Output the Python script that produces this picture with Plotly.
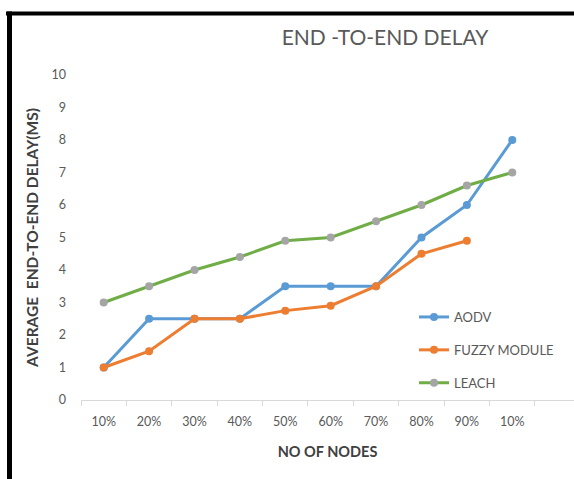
import plotly.graph_objects as go

# Node percentages along the x axis (the final group is labelled "10%" again)
categories = ["10%", "20%", "30%", "40%", "50%", "60%", "70%", "80%", "90%", "10%"]

# Average end-to-end delay (ms) per protocol
aodv = [1, 2.5, 2.5, 2.5, 3.5, 3.5, 3.5, 5, 6, 8]
fuzzy = [1, 1.5, 2.5, 2.5, 2.75, 2.9, 3.5, 4.5, 4.9, None]
leach = [3, 3.5, 4, 4.4, 4.9, 5, 5.5, 6, 6.6, 7]

y_ticks = list(range(0, 11))

W, H = 574, 479
L, R, T, B = 81, 0, 75, 79
PW, PH = W - L - R, H - T - B


def px_x(px):
    return (px - L) / PW


def px_y(py):
    return (H - B - py) / PH


xpos = list(range(len(categories)))
grey_txt = "#595959"

fig = go.Figure()

fig.add_trace(go.Scatter(
    x=xpos, y=aodv, name="AODV", mode="lines+markers",
    line=dict(color="#5B9BD5", width=3),
    marker=dict(color="#5B9BD5", size=8, symbol="circle"),
    legendgroup="a",
))
fig.add_trace(go.Scatter(
    x=xpos, y=fuzzy, name="FUZZY MODULE", mode="lines+markers",
    line=dict(color="#ED7D31", width=3),
    marker=dict(color="#ED7D31", size=8, symbol="circle"),
    legendgroup="b",
))
fig.add_trace(go.Scatter(
    x=xpos, y=leach, name="LEACH", mode="lines+markers",
    line=dict(color="#70AD47", width=3),
    marker=dict(color="#A5A5A5", size=8, symbol="circle"),
    legendgroup="c",
))

fig.update_layout(
    width=W, height=H,
    margin=dict(l=L, r=R, t=T, b=B, autoexpand=False),
    paper_bgcolor="white", plot_bgcolor="white",
    font=dict(family="Lato, sans-serif", color=grey_txt, size=12),
    title=dict(
        text="END -TO-END DELAY",
        font=dict(family="Lato, sans-serif", size=21, color=grey_txt),
        x=px_x(385), xref="paper", xanchor="center",
        y=1 - 38 / H, yref="container", yanchor="middle",
    ),
    xaxis=dict(
        range=[-0.5, (W - L) / ((PW) / 10.86) - 0.5],
        tickmode="array", tickvals=xpos, ticktext=categories,
        ticks="", showgrid=False, zeroline=False,
        showline=True, linecolor="#D9D9D9", linewidth=1,
        tickfont=dict(size=12.5, color=grey_txt),
        ticklabelstandoff=10,
        minor=dict(ticks="outside", tick0=-0.5, dtick=1, ticklen=5,
                   tickcolor="#D9D9D9", tickwidth=1, showgrid=False),
        title=dict(text="<b>NO OF NODES</b>", standoff=18,
                   font=dict(size=14.5, color="#404040")),
        automargin=False,
    ),
    yaxis=dict(
        range=[0, 10], tickmode="array", tickvals=y_ticks,
        showgrid=False, zeroline=False, showline=False, ticks="",
        tickfont=dict(size=12.5, color=grey_txt),
        ticklabelstandoff=14,
        title=dict(text="<b>AVERAGE  END-TO-END DELAY(MS)</b>", standoff=9,
                   font=dict(size=15.5, color="#404040")),
        automargin=False,
    ),
    legend=dict(
        x=px_x(414), y=px_y(302), xanchor="left", yanchor="top",
        bgcolor="rgba(0,0,0,0)", tracegroupgap=13,
        font=dict(size=13, color=grey_txt),
        itemwidth=30,
    ),
    shapes=[
        # outer frame: thick black top and left edges
        dict(type="line", xref="paper", yref="paper",
             x0=px_x(6), x1=px_x(W), y0=px_y(13.5), y1=px_y(13.5),
             line=dict(color="black", width=4)),
        dict(type="line", xref="paper", yref="paper",
             x0=px_x(9.5), x1=px_x(9.5), y0=px_y(11.5), y1=px_y(H),
             line=dict(color="black", width=5)),
    ],
)

fig.write_html("out.html")
